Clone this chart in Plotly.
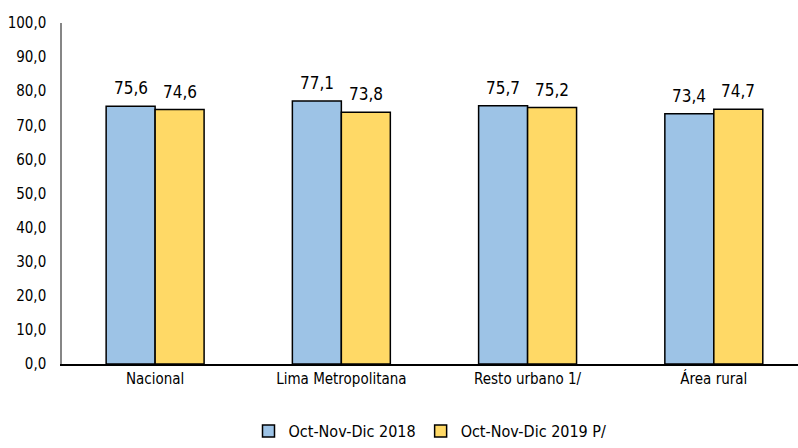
import plotly.graph_objects as go

categories = ["Nacional", "Lima Metropolitana", "Resto urbano 1/", "Área rural"]
series_2018 = [75.6, 77.1, 75.7, 73.4]
series_2019 = [74.6, 73.8, 75.2, 74.7]
series_names = ["Oct-Nov-Dic 2018", "Oct-Nov-Dic 2019 P/"]
y_ticks = [0, 10, 20, 30, 40, 50, 60, 70, 80, 90, 100]

FONT = "DejaVu Sans Condensed, Liberation Sans Narrow, Arial Narrow, sans-serif"

fig = go.Figure()
fig.add_trace(go.Bar(
    x=categories, y=series_2018, name=series_names[0],
    marker=dict(color="#9DC3E6", line=dict(color="#000000", width=1.5)),
))
fig.add_trace(go.Bar(
    x=categories, y=series_2019, name=series_names[1],
    marker=dict(color="#FFD966", line=dict(color="#000000", width=1.5)),
))

annotations = []
for vals, shift in ((series_2018, -24.5), (series_2019, 24.5)):
    for c, v in zip(categories, vals):
        annotations.append(dict(
            x=c, y=v, xref="x", yref="y", xshift=shift, yshift=6,
            text=f"{v:.1f}".replace(".", ","), showarrow=False,
            xanchor="center", yanchor="bottom",
            font=dict(family=FONT, size=17, color="#000000"),
        ))

fig.update_layout(
    width=798, height=448,
    margin=dict(l=62, r=0, t=23, b=84),
    paper_bgcolor="white", plot_bgcolor="white",
    barmode="group", bargap=0.474, bargroupgap=0,
    separators=",.",
    font=dict(family=FONT, size=15, color="#000000"),
    showlegend=True,
    annotations=annotations,
    legend=dict(orientation="h", x=0.5, xanchor="center",
                yref="container", y=-0.014, yanchor="bottom",
                font=dict(family=FONT, size=16, color="#000000"),
                itemwidth=30, traceorder="normal"),
    xaxis=dict(
        range=[-0.5, 3.452], showline=True, linecolor="#000000", linewidth=1.5,
        showgrid=False, ticks="", automargin=False,
        tickfont=dict(family=FONT, size=15, color="#000000"),
    ),
    yaxis=dict(
        range=[0, 100], tickvals=y_ticks, tickformat=".1f",
        showline=True, linecolor="#868686", linewidth=1.5,
        showgrid=False, ticks="", zeroline=False, ticklabelstandoff=11,
        automargin=False,
        tickfont=dict(family=FONT, size=15, color="#000000"),
    ),
)

fig.write_html("out.html", config={"displayModeBar": False},
               post_script="document.body.style.margin='0';")
